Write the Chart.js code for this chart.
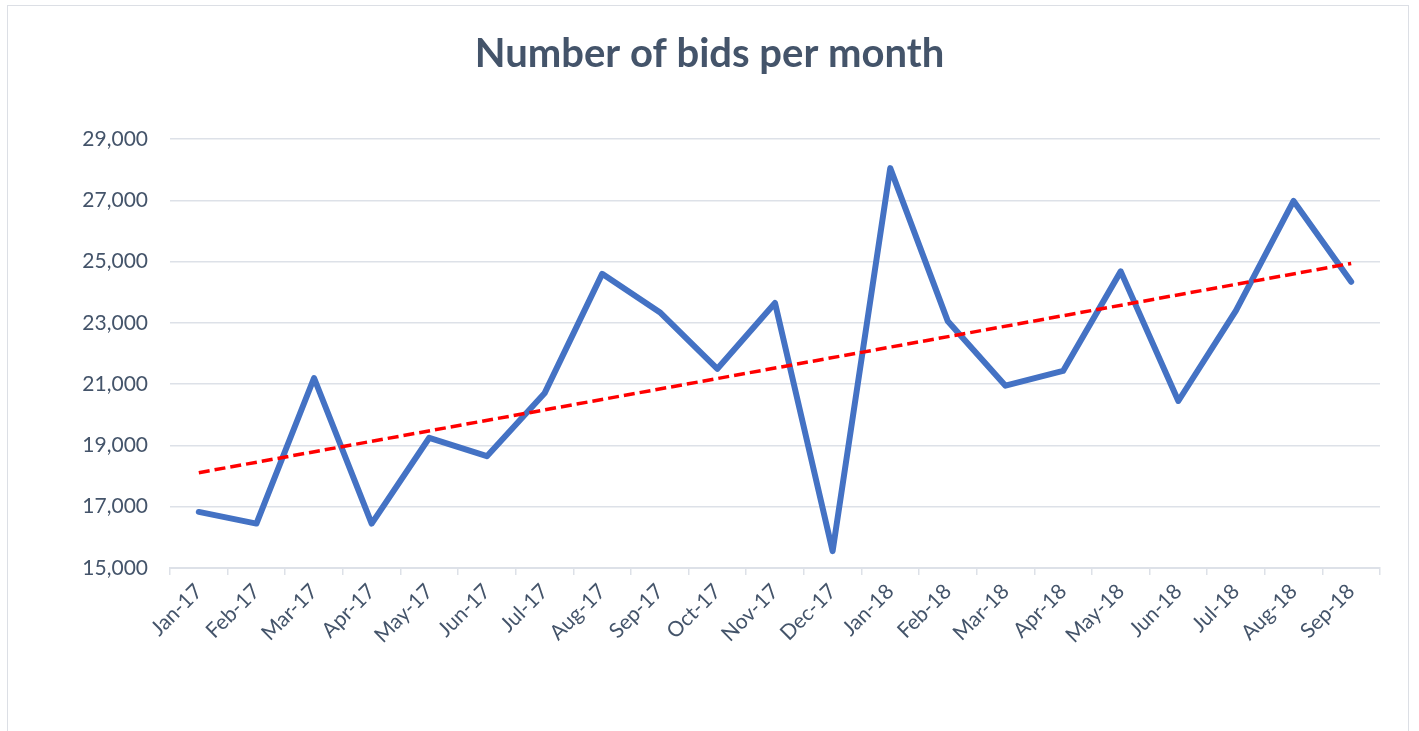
<!DOCTYPE html>
<html>
<head>
<meta charset="utf-8">
<script src="https://cdn.jsdelivr.net/npm/chart.js@4.4.1/dist/chart.umd.min.js"></script>
<style>
  html, body { margin: 0; padding: 0; background: #ffffff; overflow: hidden; }
  #frame { position: absolute; left: 7px; top: 5px; width: 1402px; height: 760px; border: 1.5px solid #dcdfe5; box-sizing: border-box; }
  #wrap { position: absolute; left: 0; top: 0; width: 1419px; height: 731px; }
</style>
</head>
<body>
<div id="frame"></div>
<div id="wrap"><canvas id="c" width="1419" height="731"></canvas></div>
<script>
const categories = ["Jan-17","Feb-17","Mar-17","Apr-17","May-17","Jun-17","Jul-17","Aug-17","Sep-17","Oct-17","Nov-17","Dec-17",
                    "Jan-18","Feb-18","Mar-18","Apr-18","May-18","Jun-18","Jul-18","Aug-18","Sep-18"];
const bids = [16830, 16450, 21200, 16450, 19250, 18650, 20700, 24600, 23350, 21500, 23650, 15550,
              28050, 23050, 20950, 21430, 24680, 20450, 23400, 26980, 24340];
// Trend line endpoints (straight dashed line)
const trend = [18110, null, null, null, null, null, null, null, null, null, null, null,
               null, null, null, null, null, null, null, null, 24940];
const yTicks = [15000, 17000, 19000, 21000, 23000, 25000, 27000, 29000];

const textColor = '#44546A';
const gridColor = '#dde1e8';

new Chart(document.getElementById('c'), {
  type: 'line',
  data: {
    labels: categories,
    datasets: [
      {
        label: 'Bids',
        data: bids,
        borderColor: '#4472C4',
        borderWidth: 6,
        pointRadius: 0,
        tension: 0,
        borderJoinStyle: 'round',
        borderCapStyle: 'round',
        fill: false,
        order: 2
      },
      {
        label: 'Trend',
        data: trend,
        borderColor: '#FF0000',
        borderWidth: 3.5,
        borderDash: [11, 5],
        pointRadius: 0,
        spanGaps: true,
        fill: false,
        order: 1
      }
    ]
  },
  options: {
    responsive: false,
    animation: false,
    layout: { padding: 0 },
    plugins: {
      legend: { display: false },
      tooltip: { enabled: false },
      title: {
        display: true,
        text: 'Number of bids per month',
        color: textColor,
        font: { family: 'Lato, "Open Sans", sans-serif', size: 40, weight: 'bold' },
        padding: { top: 30, bottom: 61 }
      }
    },
    scales: {
      x: {
        offset: true,
        grid: { display: true, offset: true, drawOnChartArea: false, drawTicks: true, tickLength: 7, color: gridColor, lineWidth: 1.5 },
        border: { display: true, color: gridColor, width: 2 },
        ticks: {
          color: textColor,
          font: { family: 'Lato, "Open Sans", sans-serif', size: 21 },
          minRotation: 45, maxRotation: 45, autoSkip: false, padding: 4
        },
        afterFit(scale) { scale.height = 163; }
      },
      y: {
        min: 15000, max: 29000,
        afterBuildTicks(scale) { scale.ticks = yTicks.map(v => ({ value: v })); },
        grid: { color: gridColor, lineWidth: 1.5, drawTicks: false },
        border: { display: false },
        ticks: {
          color: textColor,
          font: { family: 'Lato, "Open Sans", sans-serif', size: 21 },
          padding: 22,
          callback: v => Number(v).toLocaleString('en-US')
        },
        afterFit(scale) { scale.width = 170; }
      },
      yRight: {
        position: 'right',
        display: true,
        min: 15000, max: 29000,
        grid: { display: false },
        border: { display: false },
        ticks: { display: false },
        afterFit(scale) { scale.width = 39; }
      }
    }
  }
});
</script>
</body>
</html>
